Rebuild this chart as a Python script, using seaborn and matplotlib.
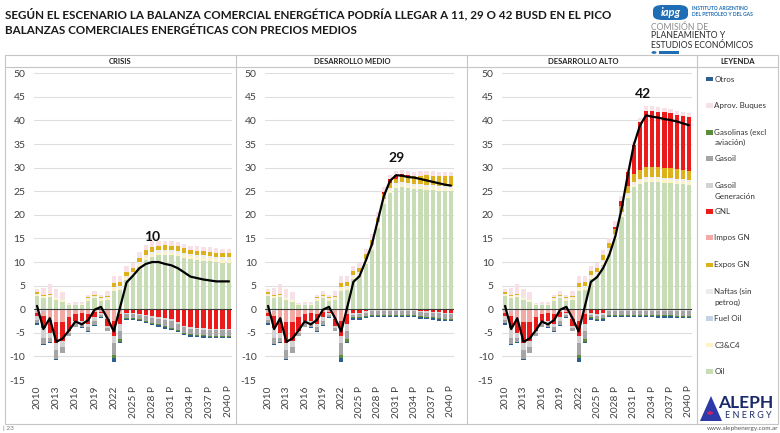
import numpy as np
import pandas as pd
import matplotlib
matplotlib.use("Agg")
import matplotlib.pyplot as plt
from matplotlib.lines import Line2D
from matplotlib.patches import Rectangle, Polygon, FancyBboxPatch, Circle
import seaborn as sns

# ---------------- DATA ----------------
years = list(range(2010, 2041))
year_labels = [str(y) if y <= 2022 else f"{y} P" for y in years]

scenarios = ["CRISIS", "DESARROLLO MEDIO", "DESARROLLO ALTO"]
peak_labels = ["10", "29", "42"]

series_names = ["Oil", "C3&C4", "Fuel Oil", "Naftas (sin petroq)", "Expos GN", "Impos GN",
                "GNL", "Gasoil Generación", "Gasoil", "Gasolinas (excl aviación)",
                "Aprov. Buques", "Otros"]

# historical 2010-2022 (shared by all scenarios)
oil_hist = [2.7, 2.3, 2.5, 2.0, 1.6, 0.9, 0.8, 0.9, 1.8, 2.3, 1.8, 2.0, 3.9]
c3c4_hist = [0.4, 0.4, 0.4, 0.4, 0.4, 0.2, 0.2, 0.2, 0.3, 0.3, 0.3, 0.4, 0.5]
fuel_hist = [-0.3, -0.3, -0.2, -0.2, -0.2, -0.1, -0.1, -0.1, -0.1, -0.1, -0.1, -0.1, -0.1]
naftas_hist = [0.2, 0.2, 0.2, 0.2, 0.2, 0.1, 0.1, 0.1, 0.2, 0.2, 0.2, 0.2, 0.4]
expos_hist = [0.3, 0.2, 0.1, 0.0, 0.0, 0.0, 0.0, 0.0, 0.2, 0.3, 0.3, 0.3, 0.8]
impos_hist = [-0.6, -1.2, -2.0, -2.5, -2.5, -1.5, -1.0, -0.8, -1.0, -0.5, -0.5, -2.0, -2.5]
gnl_hist = [-0.5, -2.5, -2.8, -4.5, -4.0, -3.0, -1.5, -1.6, -2.0, -1.0, -0.2, -1.5, -3.0]
gasgen_hist = [-0.8, -2.0, -1.2, -1.5, -1.3, -0.4, -0.4, -0.4, -0.6, -0.8, -0.4, -0.4, -1.5]
gasoil_hist = [-0.8, -1.3, -0.8, -1.8, -1.2, -0.6, -0.7, -0.8, -0.9, -0.9, -0.5, -0.6, -2.5]
gasolinas_hist = [0.0, 0.0, 0.0, 0.0, 0.0, 0.0, 0.0, 0.0, 0.0, 0.0, 0.0, 0.0, -0.8]
aprov_hist = [0.7, 1.5, 2.2, 1.6, 1.4, 0.1, 0.4, 0.4, 0.5, 0.8, 0.4, 1.0, 1.5]
otros_hist = [-0.3, -0.3, -0.2, -0.2, -0.1, -0.1, -0.1, -0.2, -0.3, -0.3, -0.2, -0.1, -0.7]
net_hist = [0.7, -4.2, -1.9, -6.9, -6.2, -4.5, -2.6, -3.2, -2.3, -0.1, 0.5, -1.9, -4.7]

# projections 2023-2040 shared by scenarios
c3c4_proj = [0.5, 0.5, 0.5, 0.6, 0.6, 0.6, 0.6, 0.6, 0.6, 0.6, 0.6, 0.6, 0.6, 0.6, 0.6, 0.6, 0.6, 0.6]
fuel_proj = [-0.1, -0.1, -0.1, -0.1, -0.1, -0.1, -0.1, -0.1, -0.1, -0.1, -0.1, -0.1, -0.1, -0.1, -0.1, -0.1, -0.1, -0.1]
naftas_proj = [0.4, 0.4, 0.4, 0.4, 0.5, 0.5, 0.5, 0.5, 0.5, 0.5, 0.5, 0.5, 0.5, 0.5, 0.5, 0.5, 0.5, 0.5]
impos_proj = [-1.0, 0.0, 0.0, 0.0, 0.0, 0.0, 0.0, 0.0, 0.0, 0.0, 0.0, 0.0, 0.0, 0.0, 0.0, 0.0, 0.0, 0.0]
gasgen_proj = [-1.5, -0.3, -0.3, -0.3, -0.3, -0.3, -0.3, -0.3, -0.3, -0.3, -0.3, -0.3, -0.3, -0.3, -0.3, -0.3, -0.3, -0.3]
gasolinas_proj = [-0.5, -0.2, -0.2, -0.2, -0.2, -0.2, -0.2, -0.2, -0.2, -0.2, -0.2, -0.2, -0.2, -0.2, -0.2, -0.2, -0.2, -0.2]
aprov_proj = [1.3, 1.2, 1.0, 1.2, 1.2, 1.2, 1.0, 0.9, 0.9, 0.9, 0.9, 0.9, 0.9, 0.9, 0.9, 0.9, 0.9, 0.9]
otros_proj = [-0.3, -0.3, -0.3, -0.3, -0.3, -0.3, -0.3, -0.3, -0.3, -0.3, -0.3, -0.3, -0.3, -0.3, -0.3, -0.3, -0.3, -0.3]

# scenario specific projections 2023-2040
oil_crisis = [4.1, 6.2, 7.0, 9.0, 10.4, 11.1, 11.4, 11.5, 11.4, 11.2, 10.9, 10.6, 10.4, 10.3, 10.2, 10.0, 9.9, 9.9]
expos_crisis = [0.8, 0.8, 0.9, 0.9, 1.0, 1.0, 1.0, 1.0, 1.0, 1.0, 0.9, 0.9, 0.9, 0.9, 0.9, 0.9, 0.9, 0.9]
gnl_crisis = [-2.0, -0.7, -0.6, -0.9, -1.1, -1.4, -1.6, -1.8, -2.0, -2.7, -3.4, -3.7, -3.8, -3.9, -4.0, -4.0, -4.1, -4.1]
gasoil_crisis = [-1.8, -0.7, -0.8, -0.8, -1.0, -1.1, -1.2, -1.4, -1.5, -1.3, -1.2, -1.2, -1.2, -1.2, -1.2, -1.2, -1.2, -1.2]
net_crisis = [0.5, 5.7, 7.1, 8.7, 9.6, 10.0, 10.0, 9.6, 9.3, 8.7, 7.8, 6.9, 6.6, 6.3, 6.1, 5.9, 5.9, 5.9]

oil_medio = [4.1, 6.3, 7.0, 9.6, 12.6, 17.3, 22.3, 24.6, 25.6, 25.8, 25.6, 25.5, 25.4, 25.3, 25.2, 25.1, 25.0, 25.0]
expos_medio = [0.8, 0.8, 0.9, 1.0, 1.0, 1.0, 1.0, 1.0, 1.0, 1.2, 1.4, 1.6, 1.8, 2.0, 2.0, 2.0, 2.1, 2.1]
gnl_medio = [-2.0, -0.8, -0.7, -0.3, 0.0, 0.0, 0.5, 0.8, 0.8, 0.6, 0.3, 0.0, -0.2, -0.3, -0.4, -0.5, -0.6, -0.7]
gasoil_medio = [-1.8, -0.5, -0.6, -0.7, -0.8, -0.8, -0.8, -0.8, -0.8, -0.8, -0.8, -0.8, -0.9, -0.9, -0.9, -1.0, -1.0, -1.0]
net_medio = [0.5, 5.8, 7.0, 10.2, 13.6, 18.8, 24.0, 27.2, 28.4, 28.3, 28.0, 27.9, 27.6, 27.3, 27.0, 26.7, 26.4, 26.2]

oil_alto = [4.1, 6.3, 7.0, 9.4, 11.8, 14.8, 19.5, 23.5, 25.8, 26.5, 27.0, 27.0, 27.0, 26.8, 26.8, 26.6, 26.5, 26.3]
expos_alto = [0.8, 0.8, 0.9, 1.0, 1.1, 1.2, 1.3, 1.5, 1.8, 2.0, 2.0, 2.0, 2.0, 2.0, 2.0, 2.0, 2.0, 2.0]
gnl_alto = [-2.0, -0.8, -1.0, -0.8, 0.0, 0.3, 1.0, 3.0, 6.0, 10.0, 12.0, 12.0, 11.8, 11.8, 11.6, 11.5, 11.4, 11.3]
gasoil_alto = [-1.8, -0.5, -0.6, -0.7, -0.8, -0.8, -0.8, -0.8, -0.8, -0.8, -0.8, -0.8, -0.9, -0.9, -0.9, -1.0, -1.0, -1.0]
net_alto = [0.5, 5.8, 6.8, 8.7, 11.5, 15.5, 21.2, 28.3, 34.8, 38.9, 41.1, 40.8, 40.6, 40.3, 40.1, 39.8, 39.4, 39.0]

colors = {
    "Oil": "#c8ddb6", "C3&C4": "#fdf3c8", "Fuel Oil": "#c3d4e6",
    "Naftas (sin petroq)": "#ececec", "Expos GN": "#dcb11c", "Impos GN": "#f4aaa4",
    "GNL": "#ec1b1b", "Gasoil Generación": "#d2d2d2", "Gasoil": "#a5a5a5",
    "Gasolinas (excl aviación)": "#5b8c3a", "Aprov. Buques": "#f8e1e6", "Otros": "#2e5e8e",
}


def build(oil_p, expos_p, gnl_p, gasoil_p, net_p):
    comp = {
        "Oil": oil_hist + oil_p, "C3&C4": c3c4_hist + c3c4_proj,
        "Fuel Oil": fuel_hist + fuel_proj, "Naftas (sin petroq)": naftas_hist + naftas_proj,
        "Expos GN": expos_hist + expos_p, "Impos GN": impos_hist + impos_proj,
        "GNL": gnl_hist + gnl_p, "Gasoil Generación": gasgen_hist + gasgen_proj,
        "Gasoil": gasoil_hist + gasoil_p,
        "Gasolinas (excl aviación)": gasolinas_hist + gasolinas_proj,
        "Aprov. Buques": aprov_hist + aprov_proj, "Otros": otros_hist + otros_proj,
    }
    return comp, net_hist + net_p


data = [build(oil_crisis, expos_crisis, gnl_crisis, gasoil_crisis, net_crisis),
        build(oil_medio, expos_medio, gnl_medio, gasoil_medio, net_medio),
        build(oil_alto, expos_alto, gnl_alto, gasoil_alto, net_alto)]

# ---------------- FIGURE ----------------
sns.set_theme(style="white")
plt.rcParams['font.family'] = ['Lato', 'DejaVu Sans']
W, H = 780, 433
fig = plt.figure(figsize=(W / 100, H / 100), dpi=100)


def rect(l, t, r, b):
    return [l / W, 1 - b / H, (r - l) / W, (b - t) / H]


def fx(x):
    return x / W


def fy(y):
    return 1 - y / H


TXT = "#404040"

# title
fig.text(fx(5), fy(14), "SEGÚN EL ESCENARIO LA BALANZA COMERCIAL ENERGÉTICA PODRÍA LLEGAR A 11, 29 O 42 BUSD EN EL PICO",
         fontsize=8.4, fontweight="bold", color="#1a1a1a", va="center", ha="left")
fig.text(fx(5), fy(31), "BALANZAS COMERCIALES ENERGÉTICAS CON PRECIOS MEDIOS",
         fontsize=8.4, fontweight="bold", color="#1a1a1a", va="center", ha="left")

# frame
fc = "#c6c6c6"
for yy in (55, 67, 424):
    fig.add_artist(Line2D([fx(5), fx(778)], [fy(yy), fy(yy)], color=fc, lw=0.8))
for xx in (5, 236, 467, 697, 778):
    fig.add_artist(Line2D([fx(xx), fx(xx)], [fy(55), fy(424)], color=fc, lw=0.8))

header_x = [120, 352, 583]
for name, hx in zip(scenarios, header_x):
    fig.text(fx(hx), fy(61.5), name, fontsize=5.5, fontweight="bold", color="#222222", ha="center", va="center")
fig.text(fx(738), fy(61.5), "LEYENDA", fontsize=5.5, fontweight="bold", color="#222222", ha="center", va="center")

axes_px = [(33.8, 73.3, 232.2, 380), (265, 73.3, 454, 380), (502, 73.3, 692, 380)]
peak_pos = [(18, 15.4), (21.1, 32.0), (22.5, 45.6)]

x = np.arange(len(years))
for i, (comp, net) in enumerate(data):
    ax = fig.add_axes(rect(*axes_px[i]))
    ax.set_xlim(-0.5, len(years) - 0.5)
    ax.set_ylim(-15, 50)
    ax.set_yticks(range(-15, 51, 5))
    ax.set_yticklabels([str(v) for v in range(-15, 51, 5)], fontsize=7.5, color=TXT)
    ax.set_xticks(x[::3])
    ax.set_xticklabels(year_labels[::3], rotation=90, fontsize=7.3, color=TXT)
    ax.tick_params(axis="both", length=0, pad=4)
    ax.tick_params(axis="y", pad=6)
    for s in ax.spines.values():
        s.set_visible(False)
    ax.yaxis.grid(True, color="#dedede", lw=0.8)
    ax.set_axisbelow(True)

    pos_bottom = np.zeros(len(years))
    neg_bottom = np.zeros(len(years))
    for name in series_names:
        v = np.array(comp[name], dtype=float)
        p = np.clip(v, 0, None)
        n = np.clip(v, None, 0)
        ax.bar(x, p, bottom=pos_bottom, width=0.68, color=colors[name], linewidth=0, zorder=2)
        ax.bar(x, n, bottom=neg_bottom, width=0.68, color=colors[name], linewidth=0, zorder=2)
        pos_bottom += p
        neg_bottom += n

    ax.axhline(0, color="#3a3a3a", lw=0.8, zorder=3)
    df = pd.DataFrame({"x": x, "net": net})
    sns.lineplot(data=df, x="x", y="net", ax=ax, color="black", lw=1.6, zorder=4, legend=False)
    ax.set_xlabel("")
    ax.set_ylabel("")
    px, py = peak_pos[i]
    ax.text(px, py, peak_labels[i], ha="center", va="center", fontsize=10, fontweight="bold", color="#111111", zorder=5)

# legend
legend_items = [("Otros", ["Otros"], 79), ("Aprov. Buques", ["Aprov. Buques"], 105.7),
                ("Gasolinas (excl aviación)", ["Gasolinas (excl", "aviación)"], 132.3),
                ("Gasoil", ["Gasoil"], 158.3),
                ("Gasoil Generación", ["Gasoil", "Generación"], 185.7),
                ("GNL", ["GNL"], 211.7), ("Impos GN", ["Impos GN"], 237.7),
                ("Expos GN", ["Expos GN"], 265.0),
                ("Naftas (sin petroq)", ["Naftas (sin", "petroq)"], 291.7),
                ("Fuel Oil", ["Fuel Oil"], 318.3), ("C3&C4", ["C3&C4"], 345.0), ("Oil", ["Oil"], 371.7)]
for key, lines, yy in legend_items:
    fig.add_artist(Rectangle((fx(705.5), fy(yy + 2.3)), 7.8 / W, 4.6 / H, transform=fig.transFigure,
                             facecolor=colors[key], edgecolor="none"))
    for k, ln in enumerate(lines):
        fig.text(fx(714.5), fy(yy + k * 10.6), ln, fontsize=5.8, color="#333333", ha="left", va="center")

# IAPG logo
fig.add_artist(FancyBboxPatch((fx(653), fy(20)), 35 / W, 15 / H, boxstyle="round,pad=0,rounding_size=0.012",
                              transform=fig.transFigure, facecolor="#1f6db4", edgecolor="none"))
fig.text(fx(670.5), fy(12.5), "iapg", fontsize=8, fontweight="bold", style="italic", color="white", ha="center", va="center")
fig.text(fx(692), fy(8.5), "INSTITUTO ARGENTINO", fontsize=3.6, fontweight="bold", color="#1f6db4", ha="left", va="center")
fig.text(fx(692), fy(14.5), "DEL PETRÓLEO Y DEL GAS", fontsize=3.6, fontweight="bold", color="#1f6db4", ha="left", va="center")
fig.text(fx(651), fy(27), "COMISIÓN DE", fontsize=6.2, color="#8a8a8a", ha="left", va="center")
fig.text(fx(651), fy(36), "PLANEAMIENTO Y", fontsize=6.2, color="#2a2a2a", ha="left", va="center")
fig.text(fx(651), fy(45), "ESTUDIOS ECONÓMICOS", fontsize=6.2, color="#2a2a2a", ha="left", va="center")
fig.add_artist(Circle((fx(654), fy(52.5)), 2.5 / W, transform=fig.transFigure, facecolor="#1f6db4", edgecolor="none"))
fig.add_artist(Rectangle((fx(659), fy(54)), 20 / W, 3 / H, transform=fig.transFigure, facecolor="#1f6db4", edgecolor="none"))

# Aleph logo and footer
fig.add_artist(Polygon([(fx(700), fy(421)), (fx(711), fy(396)), (fx(722), fy(421))], closed=True,
                       transform=fig.transFigure, facecolor="#2b3aa6", edgecolor="none"))
fig.add_artist(Circle((fx(710), fy(413)), 3 / W, transform=fig.transFigure, facecolor="#d0206a", edgecolor="none"))
fig.text(fx(746), fy(403), "ALEPH", fontsize=12.5, fontweight="bold", color="#1b2a6b", ha="center", va="center")
fig.text(fx(748), fy(416), "E N E R G Y", fontsize=6.5, color="#1b2a6b", ha="center", va="center")
fig.text(fx(778), fy(428.5), "www.alephenergy.com.ar", fontsize=4.6, color="#555555", ha="right", va="center")
fig.text(fx(3), fy(428.5), "| 23", fontsize=4.6, color="#777777", ha="left", va="center")

fig.savefig("out.png", dpi=100)
